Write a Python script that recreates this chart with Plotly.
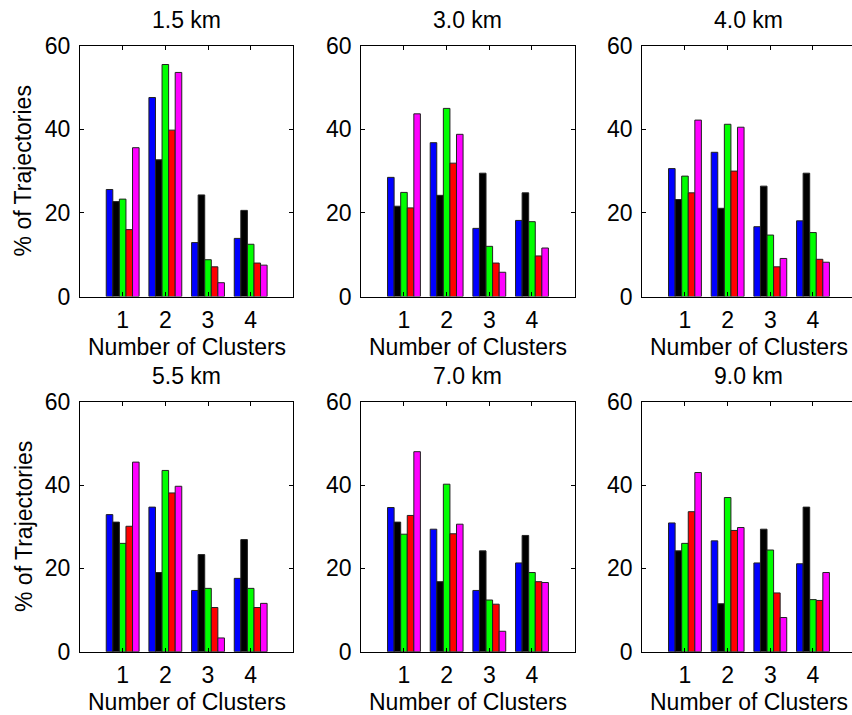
import plotly.graph_objects as go

# ---------------- data ----------------
clusters = [1, 2, 3, 4]
panel_titles = ["1.5 km", "3.0 km", "4.0 km", "5.5 km", "7.0 km", "9.0 km"]
y_ticks = [0, 20, 40, 60]

# one row per panel (1.5, 3.0, 4.0, 5.5, 7.0, 9.0 km), one value per cluster count
series_blue = [
    [25.6, 47.6, 12.9, 13.9],
    [28.5, 36.8, 16.3, 18.2],
    [30.6, 34.5, 16.7, 18.1],
    [32.9, 34.7, 14.7, 17.6],
    [34.6, 29.4, 14.7, 21.3],
    [30.9, 26.6, 21.3, 21.1],
]
series_black = [
    [22.7, 32.7, 24.3, 20.6],
    [21.6, 24.2, 29.5, 24.8],
    [23.2, 21.1, 26.4, 29.5],
    [31.1, 19.0, 23.3, 26.9],
    [31.1, 16.8, 24.2, 27.9],
    [24.2, 11.5, 29.4, 34.7],
]
series_green = [
    [23.3, 55.5, 8.8, 12.5],
    [24.9, 45.0, 12.0, 17.9],
    [28.8, 41.2, 14.7, 15.3],
    [26.0, 43.5, 15.2, 15.2],
    [28.2, 40.2, 12.4, 19.0],
    [26.0, 37.0, 24.4, 12.5],
]
series_red = [
    [16.0, 39.8, 7.1, 8.0],
    [21.2, 31.9, 8.0, 9.7],
    [24.8, 30.0, 7.1, 8.9],
    [30.1, 38.1, 10.6, 10.6],
    [32.7, 28.3, 11.4, 16.8],
    [33.6, 29.1, 14.1, 12.3],
]
series_magenta = [
    [35.6, 53.6, 3.3, 7.5],
    [43.7, 38.8, 5.8, 11.6],
    [42.2, 40.5, 9.1, 8.2],
    [45.5, 39.7, 3.3, 11.6],
    [48.0, 30.6, 4.9, 16.6],
    [43.0, 29.8, 8.2, 19.0],
]

series_list = [series_blue, series_black, series_green, series_red, series_magenta]
series_colors = ["#0000ff", "#000000", "#00ff00", "#ff0000", "#ff00ff"]
series_names = ["Series 1", "Series 2", "Series 3", "Series 4", "Series 5"]

# ---------------- layout geometry (pixels) ----------------
W, H = 852, 715
FONT = "Liberation Sans, Arial, sans-serif"
FS = 23
unit_px = 42.67
col_left = [80.0, 361.3, 642.3]
row_top = [45.7, 401.7]
row_bot = [296.5, 651.7]

fig = go.Figure()

for p in range(6):
    r, c = divmod(p, 3)
    ax = "" if p == 0 else str(p + 1)
    for s in range(5):
        fig.add_trace(go.Bar(
            x=clusters, y=series_list[s][p], name=series_names[s],
            marker=dict(color=series_colors[s], line=dict(color="#222222", width=1)),
            xaxis="x" + ax, yaxis="y" + ax, showlegend=False,
        ))

    left = col_left[c]
    right = min(left + 5 * unit_px, W)
    xmax = (right - left) / unit_px
    xd = [left / W, right / W]
    yd = [1 - row_bot[r] / H, 1 - row_top[r] / H]

    fig.update_layout(**{
        "xaxis" + ax: dict(
            domain=xd, range=[0, xmax], anchor="y" + ax, automargin=False,
            tickvals=clusters, ticktext=[str(v) for v in clusters],
            ticks="inside", ticklen=4, tickcolor="black",
            showline=True, linecolor="black", linewidth=1.2, mirror="ticks",
            showgrid=False, zeroline=False,
            tickfont=dict(family=FONT, size=FS, color="black"),
            ticklabelstandoff=3,
        ),
        "yaxis" + ax: dict(
            domain=yd, range=[0, 60], anchor="x" + ax, automargin=False,
            tickvals=y_ticks, ticks="inside", ticklen=4, tickcolor="black",
            showline=True, linecolor="black", linewidth=1.2,
            mirror=("ticks" if c < 2 else False),
            showgrid=False, zeroline=False,
            tickfont=dict(family=FONT, size=FS, color="black"),
            ticklabelstandoff=4,
        ),
    })

    cx = (left + left + 5 * unit_px) / 2
    # panel title
    fig.add_annotation(
        text=panel_titles[p], x=cx / W, y=1 - (row_top[r] - 26) / H,
        xref="paper", yref="paper", showarrow=False,
        xanchor="center", yanchor="middle",
        font=dict(family=FONT, size=FS, color="black"),
    )
    # x-axis title
    fig.add_annotation(
        text="Number of Clusters", x=cx / W, y=1 - (row_bot[r] + 50) / H,
        xref="paper", yref="paper", showarrow=False,
        xanchor="center", yanchor="middle",
        font=dict(family=FONT, size=FS, color="black"),
    )
    # y-axis title (left column only)
    if c == 0:
        fig.add_annotation(
            text="% of Trajectories", x=23.3 / W,
            y=1 - ((row_top[r] + row_bot[r]) / 2) / H,
            xref="paper", yref="paper", showarrow=False, textangle=-90,
            xanchor="center", yanchor="middle",
            font=dict(family=FONT, size=FS, color="black"),
        )

fig.update_layout(
    width=W, height=H,
    margin=dict(l=0, r=0, t=0, b=0, autoexpand=False),
    paper_bgcolor="white", plot_bgcolor="white",
    barmode="group", bargap=0.23, bargroupgap=0,
    showlegend=False,
)

fig.write_html("out.html")
